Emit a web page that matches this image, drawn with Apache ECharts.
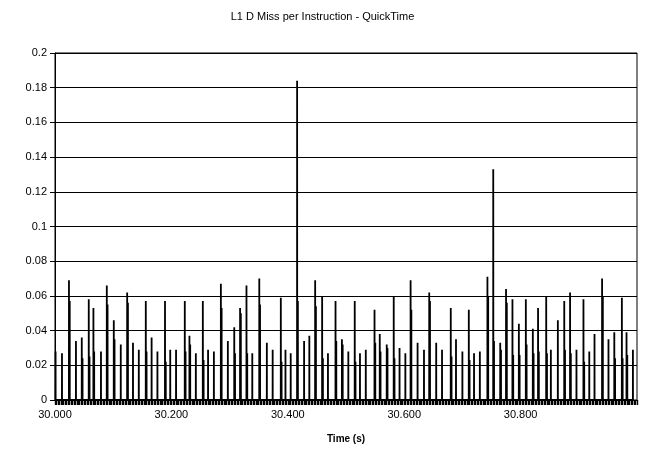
<!DOCTYPE html>
<html>
<head>
<meta charset="utf-8">
<script src="https://cdn.jsdelivr.net/npm/echarts@6/dist/echarts.min.js"></script>
<style>html,body{margin:0;padding:0;background:#fff}#c{width:645px;height:456px}</style>
</head>
<body>
<div id="c"></div>
<script>
// Spike event times (s), peak values and following (second) sample values
var eventTimes = [30.001,30.012,30.024,30.036,30.046,30.058,30.066,30.079,30.089,30.101,
  30.113,30.124,30.134,30.144,30.156,30.166,30.176,30.189,30.198,30.208,
  30.223,30.231,30.242,30.254,30.263,30.273,30.285,30.297,30.308,30.318,
  30.329,30.339,30.351,30.364,30.374,30.388,30.396,30.405,30.416,30.428,
  30.437,30.447,30.459,30.469,30.482,30.493,30.504,30.515,30.524,30.534,
  30.549,30.558,30.570,30.582,30.592,30.602,30.611,30.623,30.634,30.643,
  30.655,30.665,30.680,30.689,30.700,30.711,30.720,30.730,30.743,30.753,
  30.765,30.775,30.786,30.797,30.809,30.821,30.830,30.844,30.852,30.864,
  30.875,30.885,30.896,30.908,30.918,30.927,30.940,30.951,30.961,30.974,
  30.982,30.993];
var peakValues = [0.028,0.027,0.069,0.034,0.036,0.058,0.053,0.028,0.066,0.046,
  0.032,0.062,0.033,0.029,0.057,0.036,0.028,0.057,0.029,0.029,
  0.057,0.037,0.027,0.057,0.029,0.028,0.067,0.034,0.042,0.053,
  0.066,0.027,0.070,0.033,0.029,0.059,0.029,0.027,0.184,0.034,
  0.037,0.069,0.060,0.027,0.057,0.035,0.028,0.057,0.027,0.029,
  0.052,0.038,0.032,0.060,0.030,0.027,0.069,0.033,0.029,0.062,
  0.033,0.029,0.053,0.035,0.028,0.052,0.027,0.028,0.071,0.133,
  0.033,0.064,0.058,0.044,0.058,0.041,0.053,0.060,0.029,0.046,
  0.057,0.062,0.029,0.058,0.028,0.038,0.070,0.035,0.039,0.059,
  0.039,0.029];
var secondValues = [null,null,0.057,null,0.024,0.025,0.028,null,0.055,0.035,
  null,0.056,null,null,0.028,null,null,0.022,null,null,
  0.028,0.032,null,0.023,null,null,0.053,null,0.027,0.050,
  0.027,null,0.055,null,null,0.022,null,null,0.057,null,
  null,0.054,0.024,null,0.034,0.032,null,0.022,null,null,
  0.033,0.028,0.030,0.024,null,null,0.052,null,null,0.057,
  null,null,0.025,null,null,0.023,null,null,0.060,0.034,
  0.029,0.056,0.026,0.026,0.032,0.027,0.028,0.027,null,null,
  0.029,0.027,null,0.022,null,null,0.060,null,0.024,0.024,
  0.026,null];
var yTicks = [0,0.02,0.04,0.06,0.08,0.1,0.12,0.14,0.16,0.18,0.2];
var xLabels = ['30.000','30.200','30.400','30.600','30.800'];

var series = [];
for (var i = 0; i < eventTimes.length; i++) {
  var t = eventTimes[i];
  series.push([t - 0.0001, 0]);
  series.push([t, peakValues[i]]);
  if (secondValues[i] !== null) {
    series.push([t + 0.0002, 0]);
    series.push([t + 0.0012, 0]);
    series.push([t + 0.0013, secondValues[i]]);
    series.push([t + 0.0014, 0]);
  } else {
    series.push([t + 0.0001, 0]);
  }
}

var chart = echarts.init(document.getElementById('c'), null, {renderer: 'canvas'});
var font = 'Liberation Sans, Arial, sans-serif';
chart.setOption({
  animation: false,
  backgroundColor: '#fff',
  title: {
    text: 'L1 D Miss per Instruction - QuickTime',
    left: 'center', top: 6,
    textStyle: {fontFamily: font, fontSize: 11, fontWeight: 'normal', color: '#000'}
  },
  grid: {left: 55, right: 8, top: 53, bottom: 56, show: true, borderColor: '#000', borderWidth: 1},
  xAxis: [{
    type: 'value', min: 30, max: 31, interval: 0.2,
    name: 'Time (s)', nameLocation: 'middle', nameGap: 34,
    nameTextStyle: {fontFamily: font, fontSize: 10, fontWeight: 'bold', color: '#000'},
    axisLine: {lineStyle: {color: '#000', width: 1}},
    axisTick: {show: false},
    splitLine: {show: false},
    axisLabel: {
      showMaxLabel: false, fontFamily: font, fontSize: 11, color: '#000', margin: 9,
      formatter: function (v) {
        var s = v.toFixed(3);
        return xLabels.indexOf(s) >= 0 ? s : '';
      }
    }
  }, {
    type: 'value', min: 30, max: 31, interval: 0.0025, position: 'bottom',
    axisLine: {show: false},
    axisTick: {show: true, length: 5, lineStyle: {color: '#000', width: 1.4}},
    axisLabel: {show: false},
    splitLine: {show: false}
  }],
  yAxis: {
    type: 'value', min: 0, max: 0.2, interval: 0.02,
    axisLine: {show: true, lineStyle: {color: '#000'}},
    axisTick: {show: true, length: 5, lineStyle: {color: '#000'}},
    splitLine: {show: true, lineStyle: {color: '#000', width: 1}},
    axisLabel: {
      fontFamily: font, fontSize: 11, color: '#000', margin: 8,
      formatter: function (v) {
        for (var k = 0; k < yTicks.length; k++) if (Math.abs(yTicks[k] - v) < 1e-9) return String(yTicks[k]);
        return '';
      }
    }
  },
  series: [{
    type: 'line', xAxisIndex: 0, data: series, showSymbol: false, symbol: 'none',
    lineStyle: {color: '#000', width: 1.8}
  }]
});
</script>
</body>
</html>
